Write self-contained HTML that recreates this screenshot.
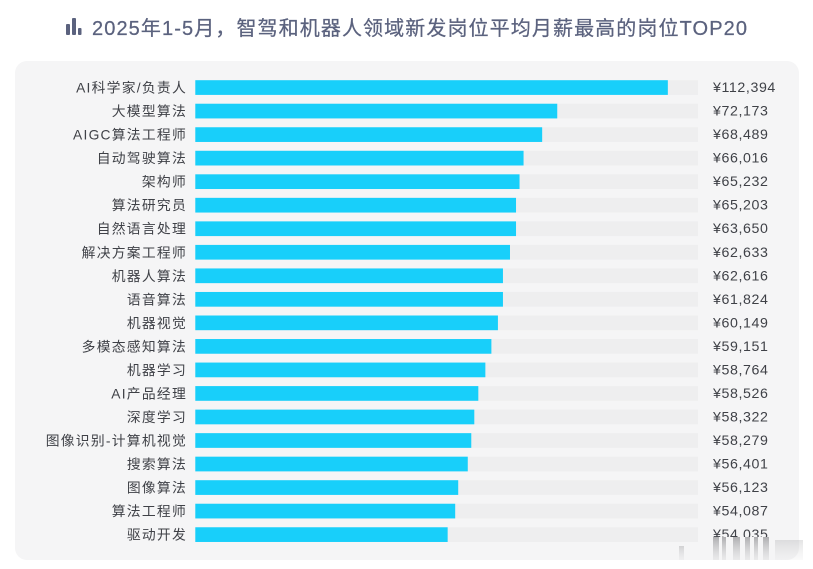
<!DOCTYPE html>
<html lang="zh">
<head>
<meta charset="utf-8">
<title>2025年1-5月岗位平均月薪TOP20</title>
<style>
html,body{margin:0;padding:0;background:#fff;width:813px;height:569px;overflow:hidden}
svg{display:block;font-family:"Liberation Sans","Noto Sans CJK SC",sans-serif;filter:blur(.3px)}
</style>
</head>
<body>
<svg id="chart" width="813" height="569" viewBox="0 0 813 569" xmlns="http://www.w3.org/2000/svg">
  <defs>
    <linearGradient id="smear" x1="0" y1="0" x2="0" y2="1">
      <stop offset="0" stop-color="#8f8f92" stop-opacity=".7"/>
      <stop offset="1" stop-color="#c8c8ca" stop-opacity=".25"/>
    </linearGradient>
    <clipPath id="last-row-clip"><rect x="700" y="500" width="100" height="37"/></clipPath>
  </defs>
  <rect width="813" height="569" fill="#fff"/>
  <rect x="15" y="61" width="784" height="499" rx="12" fill="#f5f5f6"/>
  <g fill="#5b627e">
    <rect x="66" y="24" width="4" height="11" rx="1"/>
    <rect x="72" y="18" width="4" height="17" rx="1"/>
    <rect x="78" y="28" width="3.5" height="7" rx="1"/>
  </g>
  <text x="92" y="35" font-size="20" font-weight="400" fill="#5b627e" stroke="#5b627e" stroke-width=".25" textLength="655" lengthAdjust="spacing">2025年1-5月，智驾和机器人领域新发岗位平均月薪最高的岗位TOP20</text>
  <g id="rows"></g>
  <g fill="url(#smear)">
    <rect x="679" y="546" width="5" height="14" opacity=".5"/>
    <rect x="713" y="537" width="6" height="23"/>
    <rect x="722" y="537" width="4" height="23"/>
    <rect x="733" y="537" width="7" height="23"/>
    <rect x="745" y="537" width="5" height="23"/>
    <rect x="754" y="537" width="4" height="23"/>
    <rect x="763" y="537" width="6" height="23"/>
    <rect x="775" y="540" width="28" height="20" opacity=".35"/>
  </g>
</svg>
<script>
const categories = ["AI科学家/负责人","大模型算法","AIGC算法工程师","自动驾驶算法","架构师","算法研究员","自然语言处理","解决方案工程师","机器人算法","语音算法","机器视觉","多模态感知算法","机器学习","AI产品经理","深度学习","图像识别-计算机视觉","搜索算法","图像算法","算法工程师","驱动开发"];
const barShares = [94.0,72.0,69.0,65.3,64.5,63.8,63.8,62.6,61.2,61.2,60.2,58.9,57.7,56.3,55.5,54.9,54.2,52.3,51.7,50.2];
const printedSalaries = ["¥112,394","¥72,173","¥68,489","¥66,016","¥65,232","¥65,203","¥63,650","¥62,633","¥62,616","¥61,824","¥60,149","¥59,151","¥58,764","¥58,526","¥58,322","¥58,279","¥56,401","¥56,123","¥54,087","¥54,035"];

const SVG_NS = "http://www.w3.org/2000/svg";
const plotLeft = 195.3, plotRight = 698, firstTop = 80.2, rowStep = 23.53, barHeight = 14.7;
const xScale = v => plotLeft + (v / 100) * (plotRight - plotLeft);
const yScale = i => firstTop + i * rowStep;
const rows = document.getElementById("rows");

categories.forEach((name, i) => {
  const y = yScale(i);
  const mid = y + barHeight / 2;

  const track = document.createElementNS(SVG_NS, "rect");
  
  
  track.setAttribute("x", xScale(0));
  track.setAttribute("y", y);
  track.setAttribute("width", xScale(100) - xScale(0));
  track.setAttribute("height", barHeight);
  track.setAttribute("fill", "#eeeeef");
  rows.appendChild(track);

  const bar = document.createElementNS(SVG_NS, "rect");
  
  
  bar.setAttribute("x", xScale(0));
  bar.setAttribute("y", y);
  bar.setAttribute("width", xScale(barShares[i]) - xScale(0));
  bar.setAttribute("height", barHeight);
  bar.setAttribute("fill", "#18cffa");
  rows.appendChild(bar);

  const label = document.createElementNS(SVG_NS, "text");
  
  
  label.setAttribute("x", 187);
  label.setAttribute("y", mid + 5);
  label.setAttribute("text-anchor", "end");
  label.setAttribute("font-size", "13.8");
  label.setAttribute("letter-spacing", "1.25");
  label.setAttribute("fill", "#3f4147");
  label.textContent = name;
  rows.appendChild(label);

  const value = document.createElementNS(SVG_NS, "text");
  
  
  value.setAttribute("x", 713);
  value.setAttribute("y", mid + 4.5);
  value.setAttribute("font-size", "14.2");
  value.setAttribute("letter-spacing", "0.6");
  value.setAttribute("fill", "#3f4147");
  if (i === categories.length - 1) {
    value.setAttribute("clip-path", "url(#last-row-clip)");
  }
  value.textContent = printedSalaries[i];
  rows.appendChild(value);
});
</script>
</body>
</html>
